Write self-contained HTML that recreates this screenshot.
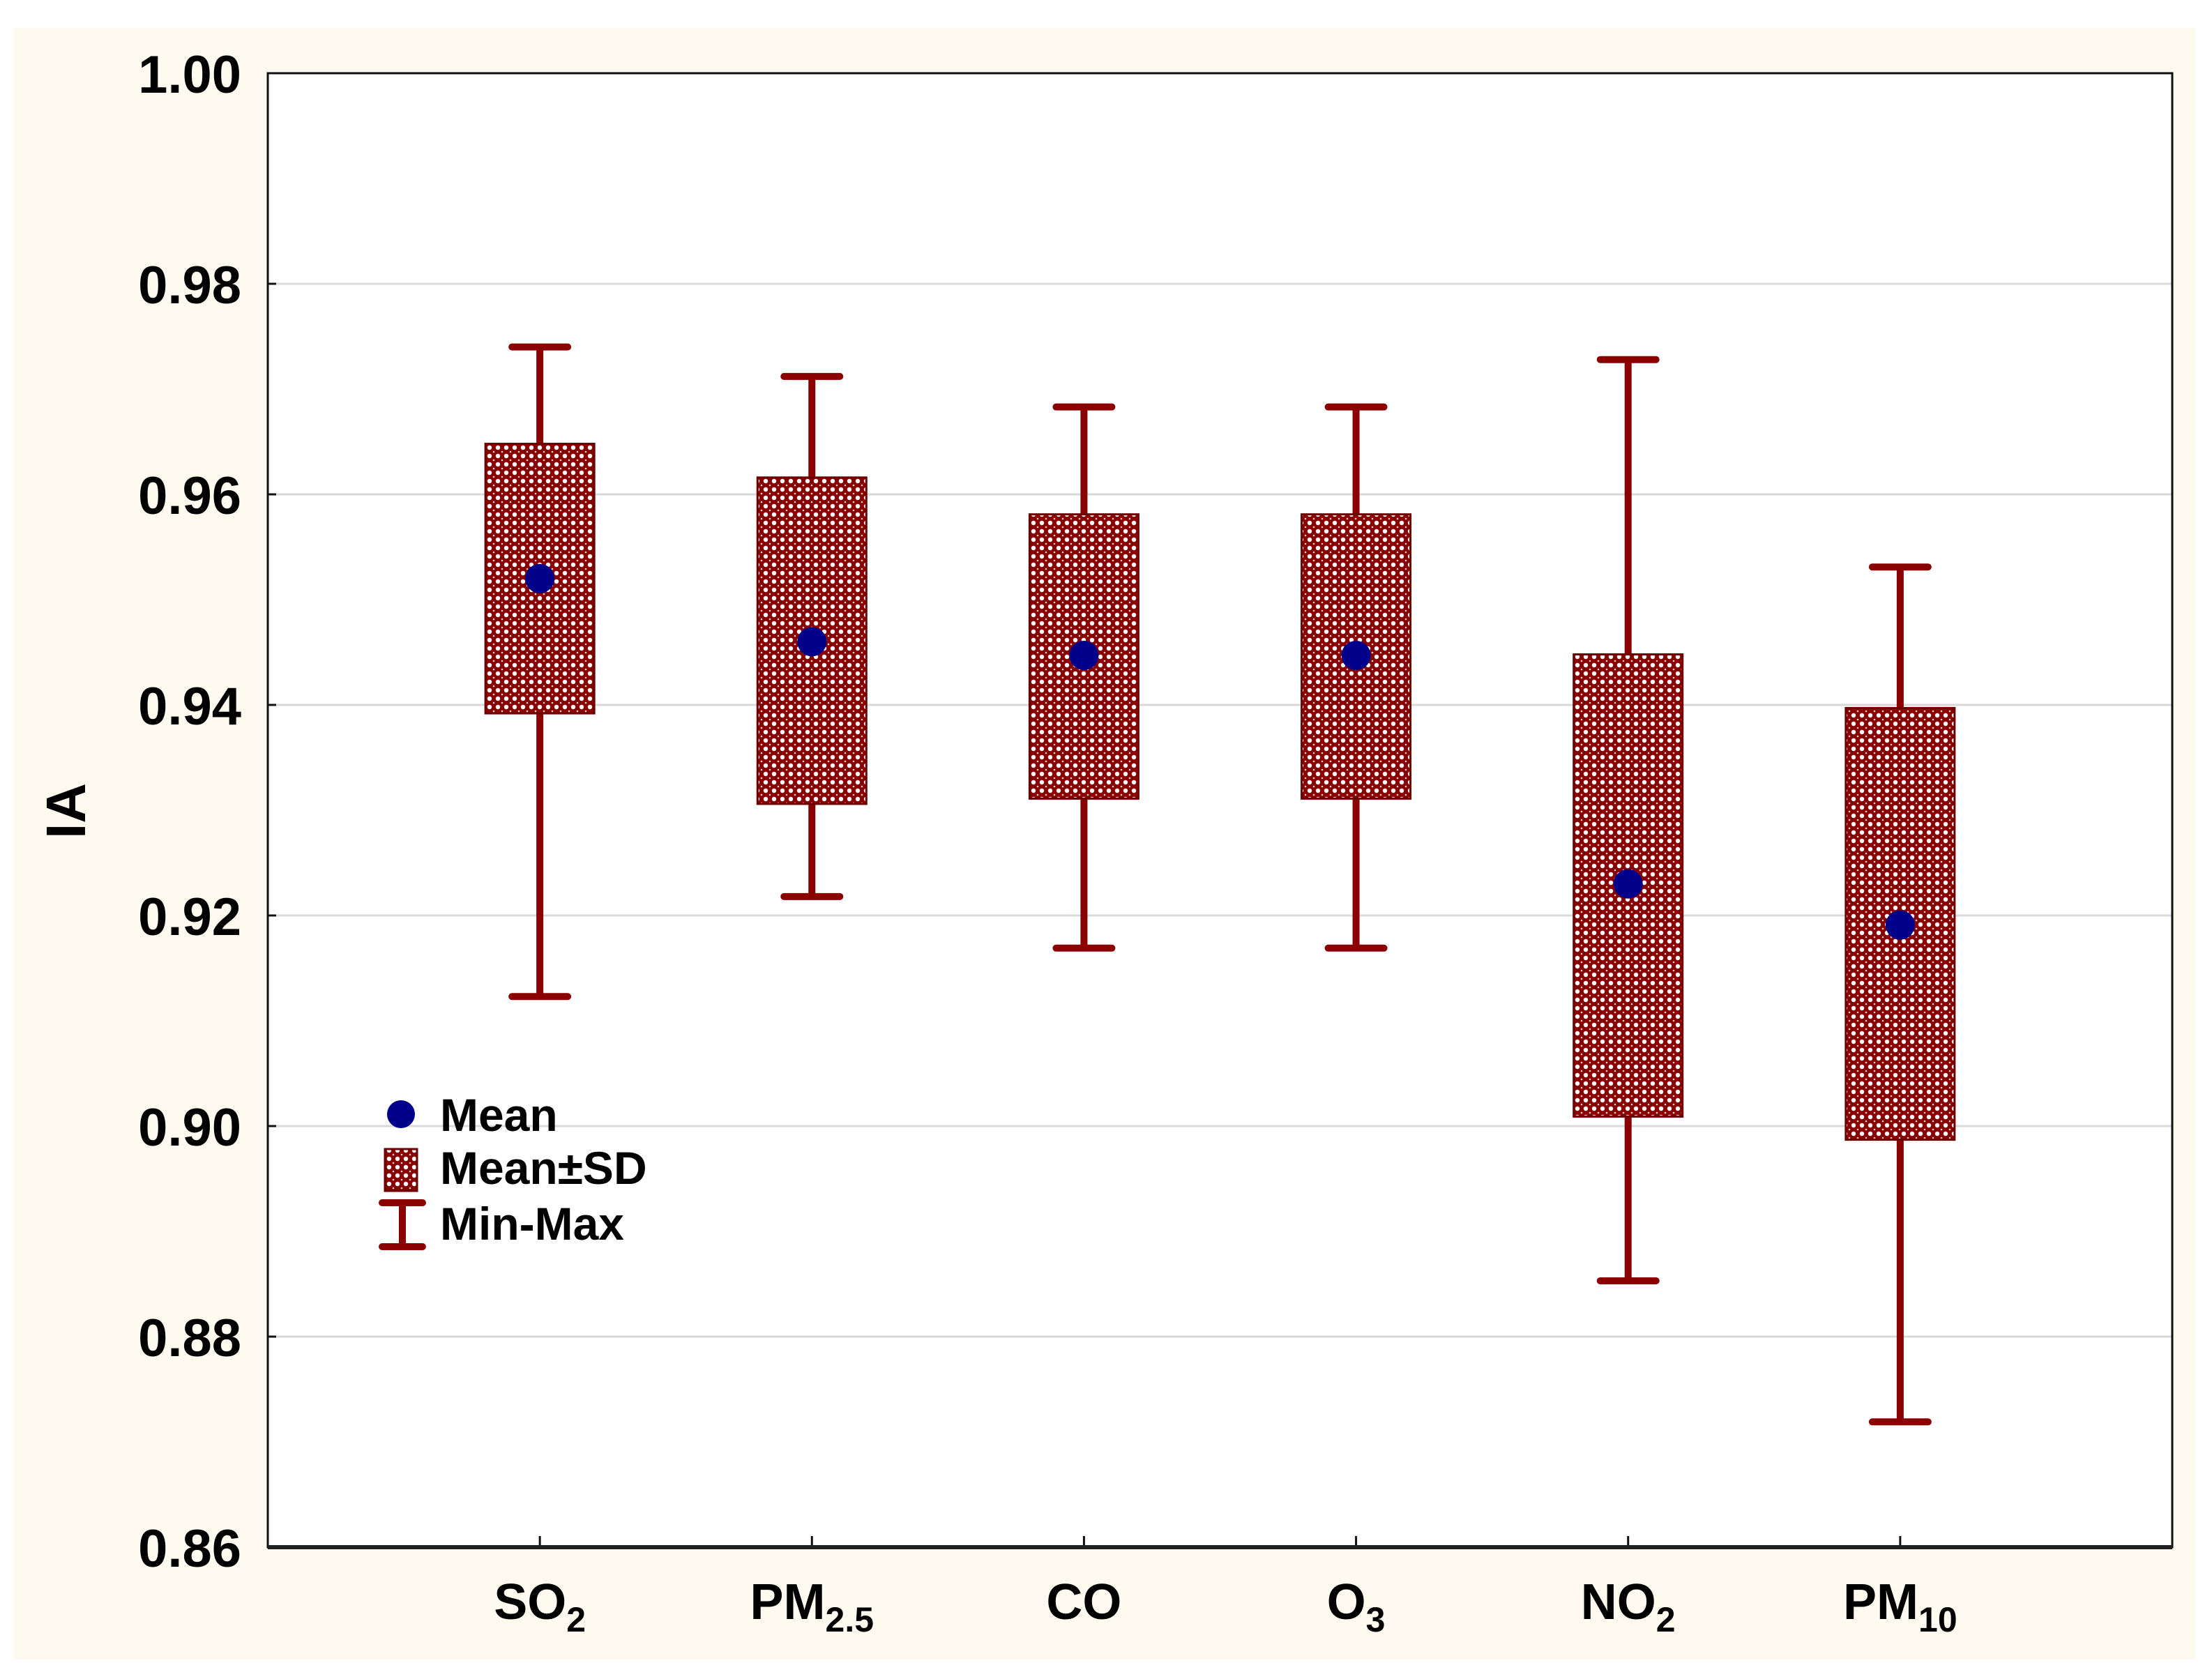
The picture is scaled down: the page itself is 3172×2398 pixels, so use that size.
<!DOCTYPE html>
<html><head><meta charset="utf-8"><style>
html,body{margin:0;padding:0;background:#fff}
svg{display:block}
text{font-family:"Liberation Sans",Arial,sans-serif;font-weight:bold;fill:#000}
</style></head><body>
<svg id="chart" width="3172" height="2398" viewBox="0 0 3172 2398" xmlns="http://www.w3.org/2000/svg">
<defs>
<pattern id="dots" width="12" height="12" patternUnits="userSpaceOnUse">
<rect width="12" height="12" fill="#8b0000"/>
<circle cx="6" cy="6" r="3.2" fill="#fff"/>
<circle cx="0" cy="0" r="1.3" fill="#f3d0d0"/>
<circle cx="12" cy="0" r="1.3" fill="#f3d0d0"/>
<circle cx="0" cy="12" r="1.3" fill="#f3d0d0"/>
<circle cx="12" cy="12" r="1.3" fill="#f3d0d0"/>
</pattern>
</defs>
<rect x="20" y="40" width="3128" height="2340" fill="#fffaf0"/>
<rect x="384" y="105" width="2731" height="2114" fill="#fff"/>
<g id="grid"></g>
<g id="yticks"></g>
<g id="marks"></g>
<rect x="384" y="105" width="2731" height="2114" fill="none" stroke="#111" stroke-width="3"/>
<line x1="384" y1="2219" x2="3115" y2="2219" stroke="#222" stroke-width="6"/>
<g id="xlabels"></g>
<text transform="translate(122,1163) rotate(-90)" text-anchor="middle" font-size="80">IA</text>
<g>
<circle cx="575" cy="1598" r="20" fill="#00008b"/>
<text x="631" y="1622" font-size="66">Mean</text>
<rect x="552" y="1648" width="46" height="60" fill="url(#dots)" stroke="#6b0000" stroke-width="3"/>
<text x="631" y="1698" font-size="66">Mean±SD</text>
<g stroke="#8b0000" stroke-width="10">
<line x1="577" y1="1725" x2="577" y2="1788"/>
<line x1="548" y1="1725" x2="606" y2="1725" stroke-linecap="round"/>
<line x1="548" y1="1788" x2="606" y2="1788" stroke-linecap="round"/>
</g>
<text x="631" y="1778" font-size="66">Min-Max</text>
</g>
</svg>
<script>
const categories=["SO2","PM2.5","CO","O3","NO2","PM10"];
const labelMain=["SO","PM","CO","O","NO","PM"];
const labelSub=["2","2.5","","3","2","10"];
const maxVals=[0.974,0.9712,0.9683,0.9683,0.9728,0.9531];
const sdTop=[0.9648,0.9616,0.9581,0.9581,0.9448,0.9397];
const means=[0.952,0.946,0.9447,0.9447,0.923,0.9191];
const sdBottom=[0.9392,0.9306,0.9311,0.9311,0.9009,0.8987];
const minVals=[0.9123,0.9218,0.9169,0.9169,0.8853,0.8719];
const yTicks=["0.86","0.88","0.90","0.92","0.94","0.96","0.98","1.00"];

const NS="http://www.w3.org/2000/svg";
const L=384,R=3115,T=105,B=2219,yMin=0.86,yMax=1.00;
function y(v){return B-(v-yMin)/(yMax-yMin)*(B-T);}
function x(i){return L+(i+1)*(R-L)/(categories.length+1);}
function mk(tag,attrs,parent){const e=document.createElementNS(NS,tag);for(const k in attrs)e.setAttribute(k,attrs[k]);parent.appendChild(e);return e;}

const grid=document.getElementById('grid'),yt=document.getElementById('yticks'),marks=document.getElementById('marks'),xl=document.getElementById('xlabels');
yTicks.forEach(t=>{
  const v=parseFloat(t),yy=y(v);
  if(v>yMin&&v<yMax){
    const g=mk('line',{x1:L,y1:yy,x2:R,y2:yy,stroke:'#d9d9d9','stroke-width':3},grid);
    
    
  }
  const tk=mk('line',{x1:L,y1:yy,x2:L+12,y2:yy,stroke:'#111','stroke-width':3},yt);
  
  
  const tx=mk('text',{x:346,y:yy+28,'text-anchor':'end','font-size':76},yt);
  tx.textContent=t;
  
  
});
categories.forEach((c,i)=>{
  const cx=x(i);
  const g=mk('g',{},marks);
  
  
  const xt=mk('line',{x1:cx,y1:B,x2:cx,y2:B-16,stroke:'#111','stroke-width':3},g);
  
  
  const w=mk('line',{x1:cx,y1:y(maxVals[i]),x2:cx,y2:y(minVals[i]),stroke:'#8b0000','stroke-width':10},g);
  
  
  [maxVals[i],minVals[i]].forEach((v,j)=>{
    const cap=mk('line',{x1:cx-40,y1:y(v),x2:cx+40,y2:y(v),stroke:'#8b0000','stroke-width':10,'stroke-linecap':'round'},g);
    
    
  });
  const bx=mk('rect',{x:cx-78,y:y(sdTop[i]),width:156,height:y(sdBottom[i])-y(sdTop[i]),fill:'url(#dots)',stroke:'#6b0000','stroke-width':3},g);
  
  
  const m=mk('circle',{cx:cx,cy:y(means[i]),r:21,fill:'#00008b'},g);
  
  
  const t=mk('text',{x:cx,y:2322,'text-anchor':'middle','font-size':72},xl);
  
  
  const a=document.createElementNS(NS,'tspan');a.textContent=labelMain[i];t.appendChild(a);
  if(labelSub[i]){const s=document.createElementNS(NS,'tspan');s.setAttribute('font-size','50');s.setAttribute('dy','18');s.textContent=labelSub[i];t.appendChild(s);}
});
</script>
</body></html>
